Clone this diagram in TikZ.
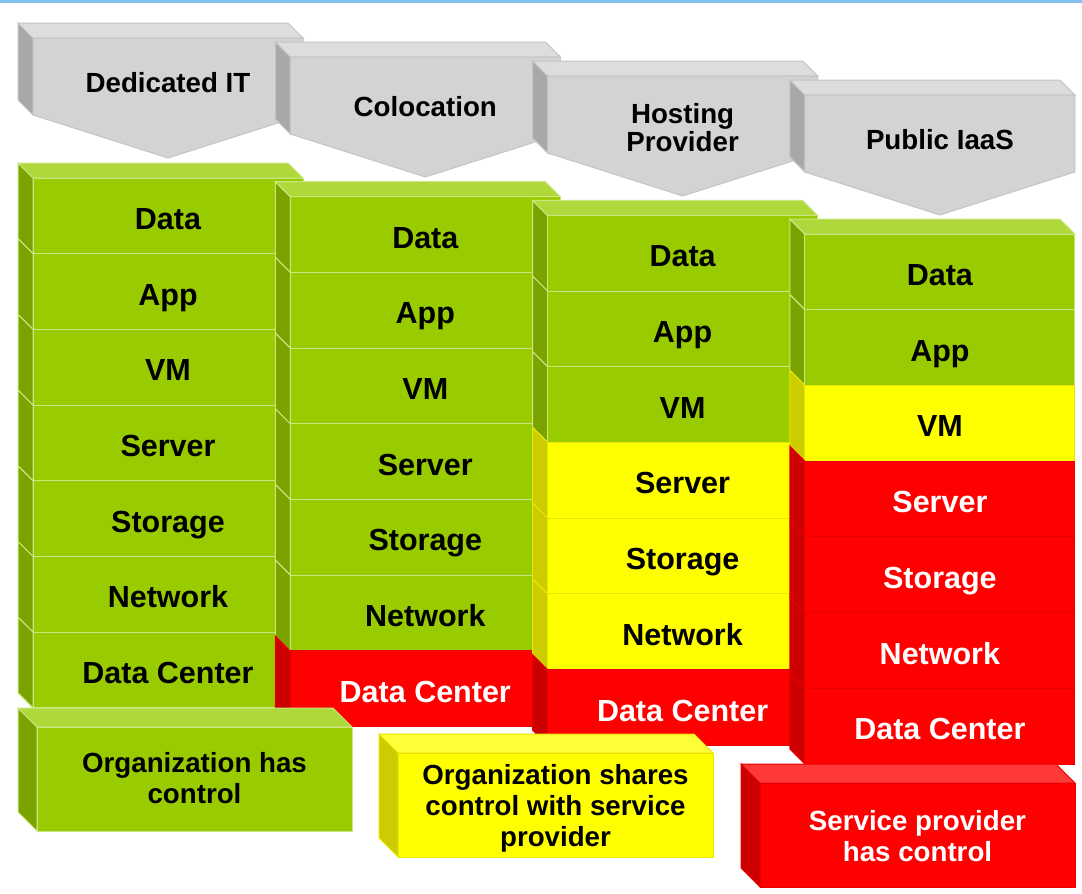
\documentclass[tikz,border=0pt]{standalone}
\usepackage{fontspec}
\setmainfont{Liberation Sans}

\definecolor{gfront}{HTML}{99CC00}
\definecolor{gside}{HTML}{7BA300}
\definecolor{gtop}{HTML}{AFD93A}
\definecolor{gline}{HTML}{C9E77E}
\definecolor{gtxt}{HTML}{000000}
\definecolor{yfront}{HTML}{FFFF00}
\definecolor{yside}{HTML}{CCCC00}
\definecolor{ytop}{HTML}{FFFF3A}
\definecolor{yline}{HTML}{E6E600}
\definecolor{ytxt}{HTML}{000000}
\definecolor{rfront}{HTML}{FF0000}
\definecolor{rside}{HTML}{CC0000}
\definecolor{rtop}{HTML}{FF3838}
\definecolor{rline}{HTML}{E80000}
\definecolor{rtxt}{HTML}{FFFFFF}
\definecolor{hfront}{HTML}{D3D3D3}
\definecolor{hside}{HTML}{A8A8A8}
\definecolor{htop}{HTML}{DDDDDD}
\definecolor{hline}{HTML}{C4C4C4}
\definecolor{topbar}{HTML}{7FC1EA}

% grey arrow head over a column: #1 column, #2 text offset, #3 text
\newcommand{\headbox}[3]{%
  \pgfmathsetmacro\xo{33+257.3*#1}
  \pgfmathsetmacro\yo{38+19*#1}
  \filldraw[fill=hside, draw=hline] (\xo-15,\yo-15) -- (\xo,\yo) -- (\xo,\yo+77) -- (\xo-15,\yo+62) -- cycle;
  \filldraw[fill=htop, draw=hline] (\xo-15,\yo-15) -- (\xo+255,\yo-15) -- (\xo+270,\yo) -- (\xo,\yo) -- cycle;
  \filldraw[fill=hfront, draw=hline] (\xo,\yo) -- (\xo+270,\yo) -- (\xo+270,\yo+77) -- (\xo+135,\yo+120) -- (\xo,\yo+77) -- cycle;
  \node[head] (h#1) at (\xo+135,\yo+#2) {#3};
}

% stack of layers: #1 column, #2 colour/label list
\newcommand{\layerstack}[2]{%
  \pgfmathsetmacro\xo{33+257.3*#1}
  \pgfmathsetmacro\yo{178+18.7*#1}
  \foreach \clr/\txt [count=\i from 0] in {#2} {
    \pgfmathsetmacro\ya{\yo+75.7*\i}
    \pgfmathsetmacro\yb{\ya+75.7}
    \filldraw[fill=\clr side, draw=\clr line] (\xo-15,\ya-15) -- (\xo,\ya) -- (\xo,\yb) -- (\xo-15,\yb-15) -- cycle;
    \filldraw[fill=\clr front, draw=\clr line] (\xo,\ya) rectangle (\xo+270,\yb);
    \node[layer, text=\clr txt] (c#1r\i) at (\xo+135,\ya+40.5) {\txt};
  }
  \filldraw[fill=gtop, draw=gline] (\xo-15,\yo-15) -- (\xo+255,\yo-15) -- (\xo+270,\yo) -- (\xo,\yo) -- cycle;
}

% legend block: #1 name, #2 x, #3 y, #4 colour, #5 text offset, #6 text
\newcommand{\keybox}[6]{%
  \filldraw[fill=#4side, draw=#4line] (#2-19,#3-19) -- (#2,#3) -- (#2,#3+104) -- (#2-19,#3+85) -- cycle;
  \filldraw[fill=#4top, draw=#4line] (#2-19,#3-19) -- (#2+296,#3-19) -- (#2+315,#3) -- (#2,#3) -- cycle;
  \filldraw[fill=#4front, draw=#4line] (#2,#3) rectangle (#2+315,#3+104);
  \node[key, text=#4txt] (#1) at (#2+157.5,#3+#5) {#6};
}

\begin{document}
\begin{tikzpicture}[x=1pt, y=-1pt, line width=1pt,
  layer/.style={font=\fontsize{30.5}{33}\selectfont\bfseries, inner sep=0pt, text height=21.8pt, text depth=0pt},
  head/.style={font=\fontsize{27.7}{28}\selectfont\bfseries, align=center, text=black, inner sep=0pt},
  key/.style={font=\fontsize{27.7}{31}\selectfont\bfseries, align=center, inner sep=0pt}]
\useasboundingbox (0,0) rectangle (1082,894);
\fill[topbar] (0,0) rectangle (1082,3);

\headbox{0}{45}{Dedicated IT}
\headbox{1}{50}{Colocation}
\headbox{2}{52}{Hosting\\Provider}
\headbox{3}{45}{Public IaaS}

\layerstack{0}{g/Data,g/App,g/VM,g/Server,g/Storage,g/Network,g/Data Center}
\layerstack{1}{g/Data,g/App,g/VM,g/Server,g/Storage,g/Network,r/Data Center}
\layerstack{2}{g/Data,g/App,g/VM,y/Server,y/Storage,y/Network,r/Data Center}
\layerstack{3}{g/Data,g/App,y/VM,r/Server,r/Storage,r/Network,r/Data Center}

\keybox{orgctl}{37}{727}{g}{51}{Organization has\\control}
\keybox{sharedctl}{398}{753}{y}{55}{Organization shares\\control with service\\provider}
\keybox{spctl}{760}{783}{r}{53}{Service provider\\has control}
\end{tikzpicture}
\end{document}
